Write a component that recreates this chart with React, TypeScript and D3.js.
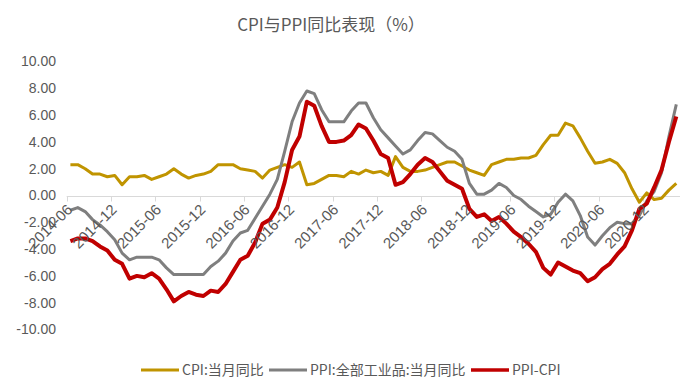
import React from "react";
import * as d3 from "d3";

const width = 700;
const height = 390;

// monthly categories 2014-06 .. 2021-04
const months = d3
  .timeMonth.range(new Date(2014, 5, 1), new Date(2021, 4, 1))
  .map((d) => d3.timeFormat("%Y-%m")(d));

const tickLabels = [
  "2014-06", "2014-12", "2015-06", "2015-12", "2016-06", "2016-12", "2017-06",
  "2017-12", "2018-06", "2018-12", "2019-06", "2019-12", "2020-06", "2020-12",
];

const yTicks = [10, 8, 6, 4, 2, 0, -2, -4, -6, -8, -10];

const cpi = [
  2.3, 2.3, 2.0, 1.6, 1.6, 1.4, 1.5,
  0.8, 1.4, 1.4, 1.5, 1.2, 1.4, 1.6, 2.0, 1.6, 1.3, 1.5, 1.6,
  1.8, 2.3, 2.3, 2.3, 2.0, 1.9, 1.8, 1.3, 1.9, 2.1, 2.3, 2.1,
  2.5, 0.8, 0.9, 1.2, 1.5, 1.5, 1.4, 1.8, 1.6, 1.9, 1.7, 1.8,
  1.5, 2.9, 2.1, 1.8, 1.8, 1.9, 2.1, 2.3, 2.5, 2.5, 2.2, 1.9,
  1.7, 1.5, 2.3, 2.5, 2.7, 2.7, 2.8, 2.8, 3.0, 3.8, 4.5, 4.5,
  5.4, 5.2, 4.3, 3.3, 2.4, 2.5, 2.7, 2.4, 1.7, 0.5, -0.5, 0.2,
  -0.3, -0.2, 0.4, 0.9,
];

const ppi = [
  -1.1, -0.9, -1.2, -1.8, -2.2, -2.7, -3.3,
  -4.3, -4.8, -4.6, -4.6, -4.6, -4.8, -5.4, -5.9, -5.9, -5.9, -5.9, -5.9,
  -5.3, -4.9, -4.3, -3.4, -2.8, -2.6, -1.7, -0.8, 0.1, 1.2, 3.3, 5.5,
  6.9, 7.8, 7.6, 6.4, 5.5, 5.5, 5.5, 6.3, 6.9, 6.9, 5.8, 4.9,
  4.3, 3.7, 3.1, 3.4, 4.1, 4.7, 4.6, 4.1, 3.6, 3.3, 2.7, 0.9,
  0.1, 0.1, 0.4, 0.9, 0.6, 0.0, -0.3, -0.8, -1.2, -1.6, -1.4, -0.5,
  0.1, -0.4, -1.5, -3.1, -3.7, -3.0, -2.4, -2.0, -2.1, -2.1, -1.5, -0.4,
  0.3, 1.7, 4.4, 6.8,
];

const spread = [
  -3.4, -3.2, -3.2, -3.4, -3.8, -4.1, -4.8,
  -5.1, -6.2, -6.0, -6.1, -5.8, -6.2, -7.0, -7.9, -7.5, -7.2, -7.4, -7.5,
  -7.1, -7.2, -6.6, -5.7, -4.8, -4.5, -3.5, -2.1, -1.8, -0.9, 1.0, 3.4,
  4.4, 7.0, 6.7, 5.2, 4.0, 4.0, 4.1, 4.5, 5.3, 5.0, 4.1, 3.1,
  2.8, 0.8, 1.0, 1.6, 2.3, 2.8, 2.5, 1.8, 1.1, 0.8, 0.5, -1.0,
  -1.6, -1.4, -1.9, -1.6, -2.1, -2.7, -3.1, -3.6, -4.2, -5.4, -5.9, -5.0,
  -5.3, -5.6, -5.8, -6.4, -6.1, -5.5, -5.1, -4.4, -3.8, -2.6, -1.0, -0.6,
  0.6, 1.9, 4.0, 5.9,
];

const seriesNames = ["CPI:当月同比", "PPI:全部工业品:当月同比", "PPI-CPI"];
const seriesColors = ["#c09400", "#7f7f7f", "#c00000"];
const seriesWidths = [3, 3, 4];

const textColor = "#595959";
const cjkFont = "'Noto Sans CJK SC', 'Noto Sans', sans-serif";
const numFont = "'Liberation Sans', Arial, sans-serif";

export default function App() {
  const x = d3.scaleBand<string>().domain(months).range([66.7, 680]).padding(0);
  const bw = x.bandwidth();
  const cx = (m: string) => (x(m) as number) + bw / 2;
  const y = d3.scaleLinear().domain([-10, 10]).range([329.5, 61.5]);

  const line = d3
    .line<number>()
    .x((_, i) => cx(months[i]))
    .y((d) => y(d));

  const data = [cpi, ppi, spread];
  const y0 = Math.round(y(0)) + 0.5;

  // legend layout
  const legendX = [141, 269, 471];

  return (
    <svg
      width={width}
      height={height}
      style={{ position: "absolute", left: 0, top: 0, background: "#fff" }}
    >
      <text
        x={331}
        y={31}
        textAnchor="middle"
        fontFamily={cjkFont}
        fontSize={17}
        fill={textColor}
      >
        CPI与PPI同比表现（%）
      </text>

      {yTicks.map((t) => (
        <text
          key={t}
          x={56}
          y={y(t)}
          dy="0.35em"
          textAnchor="end"
          fontFamily={numFont}
          fontSize={14}
          fill={textColor}
        >
          {t.toFixed(2)}
        </text>
      ))}

      <line x1={66.7} x2={680} y1={y0} y2={y0} stroke="#d9d9d9" strokeWidth={1} />
      {tickLabels.map((lab) => {
        const tx = Math.round(x(lab) as number) + 0.5;
        return (
          <line key={lab} x1={tx} x2={tx} y1={y0} y2={y0 + 5} stroke="#d9d9d9" />
        );
      })}

      {data.map((s, k) => (
        <path
          key={k}
          d={line(s) || ""}
          fill="none"
          stroke={seriesColors[k]}
          strokeWidth={seriesWidths[k]}
          strokeLinejoin="round"
        />
      ))}

      {tickLabels.map((lab) => (
        <text
          key={lab}
          transform={`translate(${cx(lab) + 3},${y0 + 14}) rotate(-45)`}
          textAnchor="end"
          fontFamily={numFont}
          fontSize={15}
          fill={textColor}
        >
          {lab}
        </text>
      ))}

      {seriesNames.map((name, k) => (
        <g key={name} transform={`translate(${legendX[k]},370)`}>
          <line
            x1={0}
            x2={38}
            y1={0}
            y2={0}
            stroke={seriesColors[k]}
            strokeWidth={k === 2 ? 3.5 : 3}
          />
          <text
            x={41}
            y={0}
            dy="0.35em"
            fontFamily={cjkFont}
            fontSize={14}
            fill={textColor}
          >
            {name}
          </text>
        </g>
      ))}
    </svg>
  );
}
